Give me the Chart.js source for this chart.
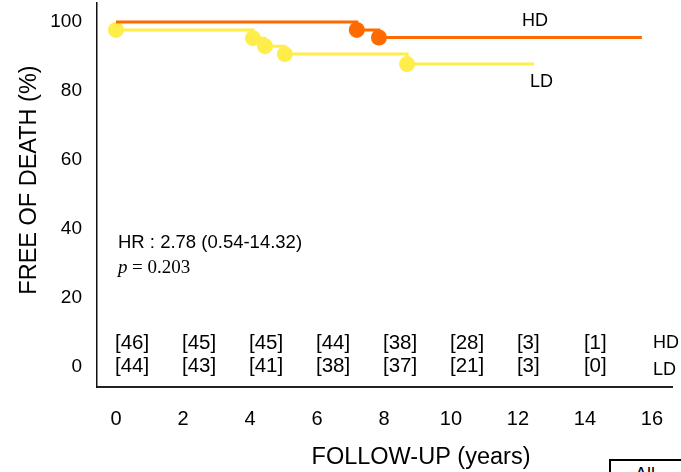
<!DOCTYPE html>
<html>
<head>
<meta charset="utf-8">
<script src="https://cdn.jsdelivr.net/npm/chart.js@4.4.1/dist/chart.umd.min.js"></script>
<style>
  html, body { margin: 0; padding: 0; overflow: hidden; background: #fff; }
  #wrap { position: relative; width: 681px; height: 472px; }
  #allBtn {
    position: absolute; left: 609px; top: 459px; width: 80px; height: 30px;
    border: 2px solid #000; box-sizing: border-box; background: #fff;
    font: 18px "Liberation Sans", Arial, sans-serif; padding: 3px 0 0 24px;
  }
</style>
</head>
<body>
<div id="wrap">
  <canvas id="km"></canvas>
  <div id="allBtn">All</div>
</div>
<script>
// survival curves (time in years, % free of death)
var hdTimes = [0, 7.19, 7.85, 15.7];
var hdValues = [100, 97.7, 95.5, 95.5];
var hdMarks = [0, 8, 8, 0];

var ldTimes = [0, 4.09, 4.45, 5.04, 8.69, 12.48];
var ldValues = [97.7, 95.3, 93.0, 90.7, 87.8, 87.8];
var ldMarks = [8, 8, 8, 8, 8, 0];

// numbers at risk
var riskTimes = [0, 2, 4, 6, 8, 10, 12, 14];
var riskHD = [46, 45, 45, 44, 38, 28, 3, 1];
var riskLD = [44, 43, 41, 38, 37, 21, 3, 0];

var xTicks = [0, 2, 4, 6, 8, 10, 12, 14, 16];
var yTicks = [0, 20, 40, 60, 80, 100];

var orange = "#ff6a00";
var yellow = "#ffee4a";
var sans = '"Liberation Sans", Arial, sans-serif';

function pts(xs, ys) {
  return xs.map(function (x, i) { return { x: x, y: ys[i] }; });
}

var extras = {
  id: "extras",
  afterDraw: function (chart) {
    var c = chart.ctx, xs = chart.scales.x;
    c.save();
    c.fillStyle = "#000";

    // axis titles
    c.font = "23.5px " + sans;
    c.textAlign = "center";
    c.textBaseline = "middle";
    c.fillText("FOLLOW-UP (years)", 421, 458);
    c.save();
    c.translate(30, 180);
    c.rotate(-Math.PI / 2);
    c.fillText("FREE OF DEATH (%)", 0, 0);
    c.restore();

    // numbers at risk
    c.font = "20.5px " + sans;
    c.textAlign = "left";
    riskTimes.forEach(function (t, i) {
      var px = xs.getPixelForValue(t) - 1;
      c.fillText("[" + riskHD[i] + "]", px, 343);
      c.fillText("[" + riskLD[i] + "]", px, 366);
    });
    c.font = "18px " + sans;
    c.fillText("HD", 653, 343);
    c.fillText("LD", 653, 370);

    // curve labels
    c.fillText("HD", 522, 21);
    c.fillText("LD", 530, 82);

    // hazard ratio
    c.textBaseline = "alphabetic";
    c.font = "18.5px " + sans;
    c.fillText("HR : 2.78 (0.54-14.32)", 118, 248);
    c.font = 'italic 19px "Liberation Serif", "Times New Roman", serif';
    c.fillText("p", 118, 273);
    c.font = '19px "Liberation Serif", "Times New Roman", serif';
    c.fillText("= 0.203", 132, 273);
    c.restore();
  }
};

new Chart(document.getElementById("km").getContext("2d"), {
  type: "line",
  data: {
    datasets: [
      {
        label: "HD",
        data: pts(hdTimes, hdValues),
        borderColor: orange,
        backgroundColor: orange,
        borderWidth: 3,
        stepped: true,
        pointRadius: hdMarks,
        pointBorderWidth: 0,
        pointHoverRadius: hdMarks,
        fill: false
      },
      {
        label: "LD",
        data: pts(ldTimes, ldValues),
        borderColor: yellow,
        backgroundColor: yellow,
        borderWidth: 3,
        stepped: true,
        pointRadius: ldMarks,
        pointBorderWidth: 0,
        pointHoverRadius: ldMarks,
        fill: false
      }
    ]
  },
  options: {
    responsive: true,
    maintainAspectRatio: false,
    animation: false,
    events: [],
    layout: { autoPadding: false, padding: { left: 0, top: 3, right: 9, bottom: 0 } },
    plugins: { legend: { display: false }, tooltip: { enabled: false } },
    scales: {
      x: {
        type: "linear",
        min: -0.567,
        max: 16.6,
        grid: { display: false, drawTicks: false },
        border: { display: true, color: "#222", width: 2 },
        afterBuildTicks: function (s) { s.ticks = xTicks.map(function (v) { return { value: v }; }); },
        afterFit: function (s) { s.height = 85; s.paddingLeft = 0; s.paddingRight = 0; },
        ticks: { color: "#000", font: { family: sans, size: 20 }, padding: 20, maxRotation: 0 }
      },
      y: {
        min: -5.8,
        max: 105.5,
        grid: { display: false, drawTicks: false },
        border: { display: true, color: "#111", width: 1.5 },
        afterBuildTicks: function (s) { s.ticks = yTicks.map(function (v) { return { value: v }; }); },
        afterFit: function (s) { s.width = 97; s.paddingTop = 0; s.paddingBottom = 0; },
        ticks: { color: "#000", font: { family: sans, size: 19 }, padding: 15 }
      }
    }
  },
  plugins: [extras]
});
</script>
</body>
</html>
